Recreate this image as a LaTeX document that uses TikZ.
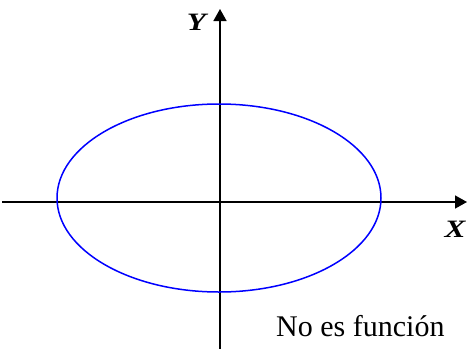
\documentclass[tikz,border=0pt]{standalone}
\usepackage{fontspec}
\setmainfont{Liberation Serif}
\newfontfamily\tnr{Liberation Serif}
\usetikzlibrary{arrows.meta}
\begin{document}
\begin{tikzpicture}[x=1pt,y=-1pt,
  axis/.style={line width=1.6pt,-{Triangle[length=12pt,width=13pt]}},
  curve/.style={draw=blue,line width=1.5pt},
  axlabel/.style={inner sep=0pt,anchor=base,xscale=1.25,font=\tnr\fontsize{25}{25}\selectfont\bfseries\itshape},
  note/.style={inner sep=0pt,anchor=base west,font=\tnr\fontsize{30}{30}\selectfont}]
\useasboundingbox (0,0) rectangle (470,348);
\coordinate (xs) at (2,202);
\coordinate (xe) at (467,202);
\coordinate (ys) at (220,350);
\coordinate (ye) at (220,9);
\coordinate (o) at (219,198);
\draw[axis] (xs) -- (xe);
\draw[axis] (ys) -- (ye);
\draw[curve] (o) ellipse [x radius=162, y radius=94];
\node[axlabel] (ylab) at (196.5,30) {Y};
\node[axlabel] (xlab) at (455,237) {X};
\node[note] (txt) at (276,336) {No es función};
\end{tikzpicture}
\end{document}
